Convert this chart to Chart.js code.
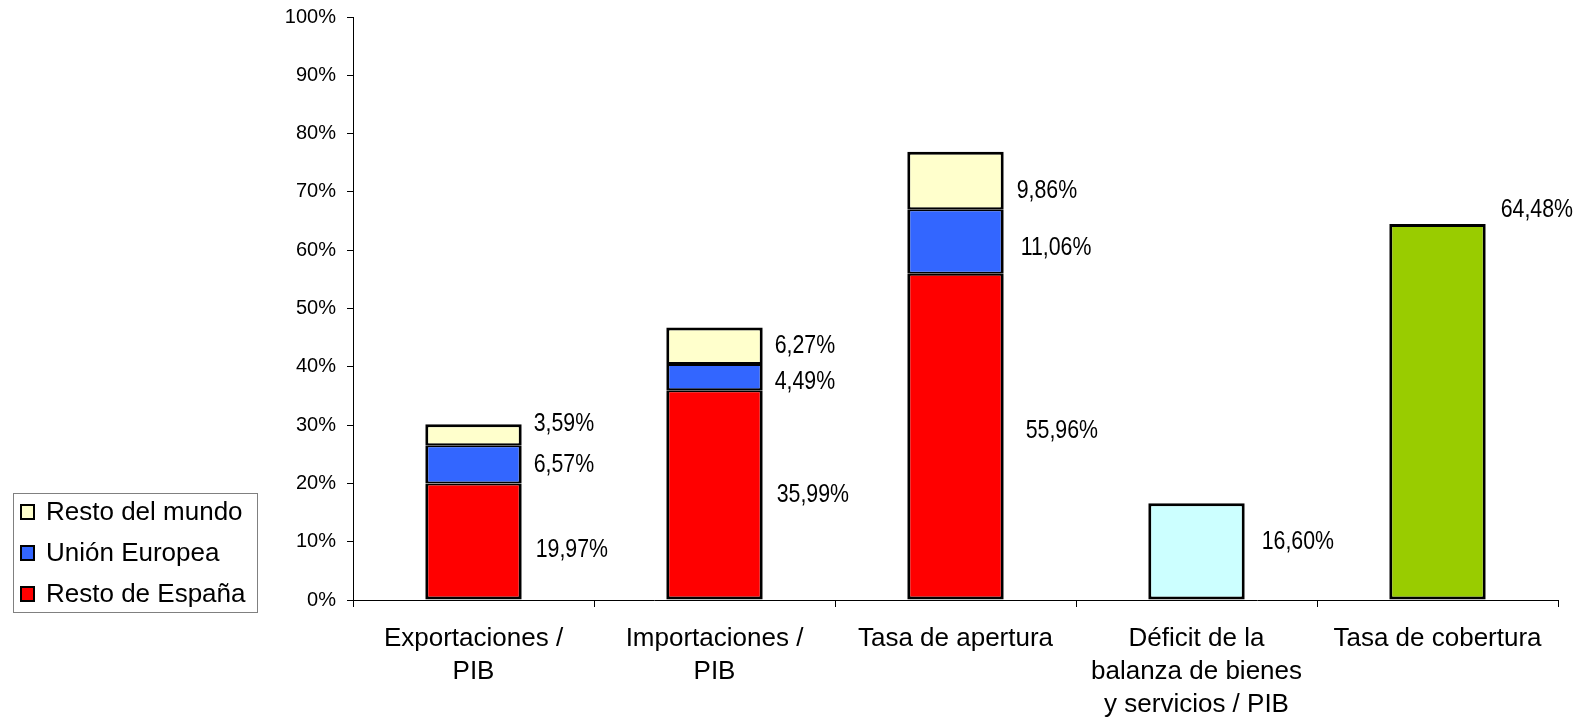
<!DOCTYPE html>
<html>
<head>
<meta charset="utf-8">
<script src="https://cdn.jsdelivr.net/npm/chart.js@4.4.1/dist/chart.umd.min.js"></script>
<style>
  html, body { margin: 0; padding: 0; background: #fff; }
  canvas { display: block; }
</style>
</head>
<body>
<canvas id="chart" width="1583" height="721"></canvas>
<script>
// Categories along the x axis (multi-line labels)
const categories = [
  ["Exportaciones /", "PIB"],
  ["Importaciones /", "PIB"],
  ["Tasa de apertura"],
  ["Déficit de la", "balanza de bienes", "y servicios / PIB"],
  ["Tasa de cobertura"]
];

// Series values, percent of GDP
const restoEspana  = [19.97, 35.99, 55.96, null, null];
const unionEuropea = [6.57, 4.49, 11.06, null, null];
const restoMundo   = [3.59, 6.27, 9.86, null, null];
const deficitBal   = [null, null, null, 16.60, null];
const tasaCobert   = [null, null, null, null, 64.48];

// Y axis range and tick step
const yMin = 0, yMax = 100, yStep = 10;

// Value label placement: gap from bar's right edge, vertical nudge (px)
const gapEspana  = [14, 14, 22, 0, 0];
const gapUE      = [12, 12, 17, 0, 0];
const gapMundo   = [12, 12, 13, 0, 0];
const gapDeficit = [0, 0, 0, 17, 0];
const gapCobert  = [0, 0, 0, 0, 15];
const dyEspana   = [8, 0, -6, 0, 0];
const dyUE       = [0, 5, 6, 0, 0];
const dyMundo    = [-11, 0, 10, 0, 0];
const dyDeficit  = [0, 0, 0, -10, 0];
const dyCobert   = [0, 0, 0, 0, -14];

const FONT = '"Liberation Sans", Arial, Helvetica, sans-serif';

function fmtPct(v) {
  return v.toFixed(2).replace('.', ',') + '%';
}

// Draws the percentage next to every bar segment in a narrow face
const valueLabels = {
  id: 'valueLabels',
  afterDatasetsDraw(chart) {
    const ctx = chart.ctx;
    chart.data.datasets.forEach((ds, di) => {
      const meta = chart.getDatasetMeta(di);
      meta.data.forEach((bar, i) => {
        const v = ds.data[i];
        if (v === null || v === undefined) return;
        const p = bar.getProps(['x', 'y', 'base', 'width'], true);
        const left = p.x + p.width / 2 + ds.labelGap[i];
        const anchorY = ds.labelAnchor === 'top' ? p.y : (p.y + p.base) / 2;
        const cy = anchorY + ds.labelDy[i];
        ctx.save();
        ctx.translate(left, cy);
        ctx.scale(0.82, 1);
        ctx.font = '26px ' + FONT;
        ctx.fillStyle = '#000';
        ctx.textAlign = 'left';
        ctx.textBaseline = 'middle';
        ctx.fillText(fmtPct(v), 0, 0);
        ctx.restore();
      });
    });
  }
};

// Boxed legend at the lower left, listing the stacked series top-down
const boxLegend = {
  id: 'boxLegend',
  afterDraw(chart) {
    const ctx = chart.ctx;
    const items = chart.data.datasets.slice(0, 3).reverse();
    ctx.save();
    ctx.fillStyle = '#fff';
    ctx.fillRect(13, 493, 244, 119);
    ctx.strokeStyle = '#808080';
    ctx.lineWidth = 1;
    ctx.strokeRect(13.5, 493.5, 244, 119);
    items.forEach((ds, k) => {
      const cy = 512 + k * 41;
      ctx.fillStyle = '#000';
      ctx.fillRect(20, cy - 8, 15, 16);
      ctx.fillStyle = ds.backgroundColor;
      ctx.fillRect(22, cy - 6, 11, 12);
      ctx.fillStyle = '#000';
      ctx.font = '26px ' + FONT;
      ctx.textAlign = 'left';
      ctx.textBaseline = 'middle';
      ctx.fillText(ds.label, 46, cy + 1);
    });
    ctx.restore();
  }
};

function series(label, data, color, border, gap, dy, anchor) {
  return {
    label: label,
    data: data,
    backgroundColor: color,
    borderColor: '#000',
    borderWidth: border,
    borderSkipped: false,
    inflateAmount: 0,
    stack: 's',
    labelGap: gap,
    labelDy: dy,
    labelAnchor: anchor || 'middle'
  };
}

const edgeLow  = { top: 2, bottom: 3, left: 3, right: 3 };
const edgeMid  = { top: 2, bottom: 2, left: 3, right: 3 };
const edgeHigh = { top: 3, bottom: 2, left: 3, right: 3 };
const edgeFull = 3;

new Chart(document.getElementById('chart'), {
  type: 'bar',
  data: {
    labels: categories,
    datasets: [
      series('Resto de España', restoEspana, '#FF0000', edgeLow, gapEspana, dyEspana),
      series('Unión Europea', unionEuropea, '#3366FF', edgeMid, gapUE, dyUE),
      series('Resto del mundo', restoMundo, '#FFFFCC', edgeHigh, gapMundo, dyMundo),
      series('Déficit', deficitBal, '#CCFFFF', edgeFull, gapDeficit, dyDeficit),
      series('Tasa de cobertura', tasaCobert, '#99CC00', edgeFull, gapCobert, dyCobert, 'top')
    ]
  },
  options: {
    responsive: false,
    devicePixelRatio: 1,
    animation: false,
    categoryPercentage: 1,
    barPercentage: 0.4,
    layout: { padding: { left: 0, top: 17, right: 25, bottom: 0 } },
    plugins: {
      legend: { display: false },
      tooltip: { enabled: false }
    },
    scales: {
      x: {
        stacked: true,
        offset: true,
        grid: {
          offset: true,
          drawOnChartArea: false,
          drawTicks: true,
          tickLength: 7,
          color: '#000',
          lineWidth: 1
        },
        border: { display: true, color: '#000', width: 1 },
        ticks: {
          color: '#000',
          font: { family: FONT, size: 26, lineHeight: 1.27 },
          padding: 15,
          maxRotation: 0,
          minRotation: 0,
          autoSkip: false
        },
        afterFit(scale) {
          scale.height = 121;
          scale.paddingLeft = 0;
          scale.paddingRight = 0;
        }
      },
      y: {
        stacked: true,
        min: yMin,
        max: yMax,
        grid: {
          drawOnChartArea: false,
          drawTicks: true,
          tickLength: 6,
          color: '#000',
          lineWidth: 1
        },
        border: { display: true, color: '#000', width: 1 },
        ticks: {
          stepSize: yStep,
          color: '#000',
          font: { family: FONT, size: 20 },
          padding: 11,
          callback: (v) => v + '%'
        },
        afterFit(scale) {
          scale.width = 353;
          scale.paddingTop = 0;
          scale.paddingBottom = 0;
        }
      }
    }
  },
  plugins: [valueLabels, boxLegend]
});
</script>
</body>
</html>
